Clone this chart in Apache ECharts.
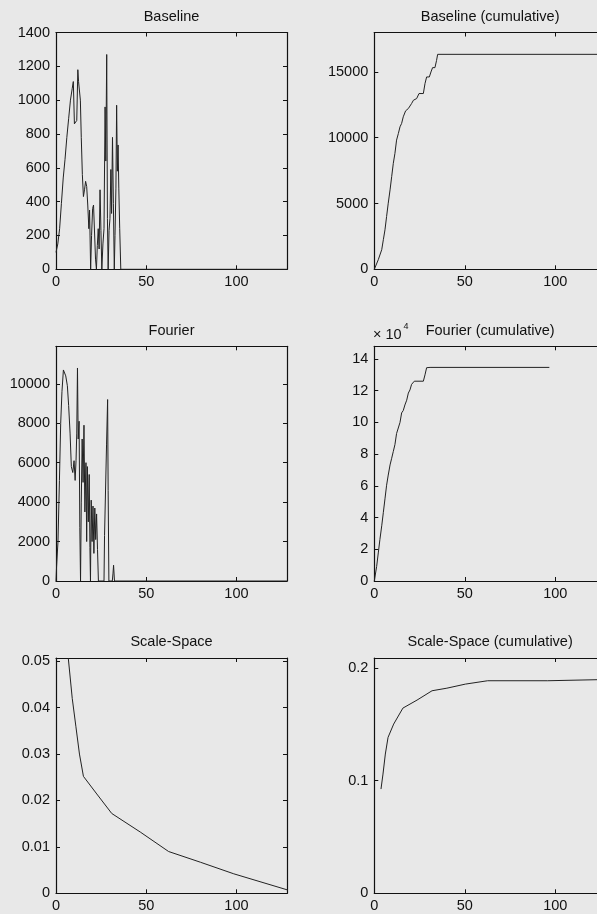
<!DOCTYPE html>
<html>
<head>
<meta charset="utf-8">
<script src="https://cdn.jsdelivr.net/npm/echarts@6/dist/echarts.min.js"></script>
<style>
html,body{margin:0;padding:0;background:#e8e8e8;}
#c{width:597px;height:914px;}
</style>
</head>
<body>
<div id="c"></div>
<script>
// ---------- data ----------
const panelTitles = ["Baseline", "Baseline (cumulative)", "Fourier", "Fourier (cumulative)", "Scale-Space", "Scale-Space (cumulative)"];
const xTickValues = [0, 50, 100];

const baselinePoints = [[0,100],[1,150],[2,240],[3,390],[4,540],[5,650],[6,780],[7,890],[8,1000],[9,1070],[9.6,1110],[10.2,860],[11.5,880],[12.1,1180],[12.5,1110],[13,1100],[13.5,1000],[14,780],[14.6,560],[15.2,430],[15.8,470],[16.4,520],[17,490],[17.6,380],[18.2,240],[18.6,350],[19.2,0],[19.7,200],[20.3,360],[20.8,380],[21.4,370],[21.9,60],[22.4,0],[22.9,140],[23.4,240],[23.9,120],[24.4,470],[24.9,230],[25.4,0],[26,150],[26.6,240],[27.2,960],[27.6,640],[28.1,1270],[28.5,300],[28.9,0],[29.4,230],[29.9,300],[30.4,590],[30.8,330],[31.3,780],[31.8,390],[32.3,0],[32.7,200],[33.2,480],[33.6,970],[34.0,580],[34.4,735],[34.8,480],[35.3,240],[35.9,0],[36.2,0],[128,0]];

const baselineCumPoints = [[0,0],[0.4,100],[2.2,730],[4.1,1490],[5,2250],[5.9,3000],[6.8,4015],[7.7,5025],[8.7,6035],[9.6,7045],[10.5,8055],[11.4,8810],[12.3,9820],[13.3,10330],[14.2,10830],[15.1,11090],[16,11590],[17.3,12045],[18.8,12220],[20.6,12600],[21.6,12850],[23.4,12980],[24.7,13360],[27.1,13360],[28,14115],[28.9,14620],[30.4,14620],[31.3,15000],[32.2,15330],[33.5,15330],[34.4,15880],[35,16340],[128,16340]];

const fourierPoints = [[0,0],[0.3,700],[1.1,2000],[1.9,5100],[2.6,8000],[3.3,9600],[4.1,10700],[4.8,10600],[5.4,10400],[6.3,9900],[7,8900],[7.8,7500],[8.5,5800],[9.3,5500],[10,6100],[10.6,5100],[11.1,6100],[11.5,7500],[11.9,10800],[12.3,7200],[12.8,8100],[13.2,2700],[13.6,0],[14,4000],[14.5,7200],[15,5000],[15.5,7900],[16,3500],[16.6,6000],[17,2000],[17.4,5800],[17.9,3000],[18.4,5400],[18.8,1700],[19.1,0],[19.5,4100],[20,2000],[20.5,3800],[21,1400],[21.5,3700],[22,2100],[22.5,3400],[23,1600],[23.5,0],[26.6,0],[26.9,2300],[27.5,2400],[28,6900],[28.6,9200],[28.9,4600],[29.3,0],[31.2,0],[31.6,400],[31.9,800],[32.4,0],[128,0]];

// Fourier cumulative in units of 10^4
const fourierCumPoints = [[0,0],[0.4,0.05],[1.3,0.92],[2.2,1.77],[3.1,2.62],[4.1,3.48],[5,4.33],[5.9,5.18],[6.8,6.04],[7.7,6.68],[8.7,7.32],[9.6,7.74],[10.5,8.17],[11.4,8.6],[12.3,9.3],[13.3,9.4],[14.2,10.0],[15.1,10.6],[16,10.75],[16.9,11.1],[17.9,11.4],[18.8,11.85],[19.7,12.05],[20.6,12.4],[22.1,12.6],[27.1,12.6],[28,13.0],[28.9,13.45],[30.8,13.47],[96.7,13.47]];

const scaleSpacePoints = [[6.8,0.0507],[9,0.042],[11,0.036],[13,0.030],[15.2,0.0252],[22.6,0.0214],[30.9,0.0172],[46.7,0.0132],[62.4,0.0090],[80,0.0067],[98.5,0.0042],[128.5,0.0007]];

const scaleSpaceCumPoints = [[3.7,0.0926],[4.8,0.1059],[6.1,0.1237],[7.6,0.1385],[10.7,0.1503],[15.8,0.1645],[23.6,0.1716],[31.9,0.1799],[40.1,0.1822],[50.3,0.1858],[62.6,0.1888],[95.8,0.1888],[96.3,0.1899],[128,0.1899]];

const yMaxes = [1400, 18000, 11900, 14.8, 0.0507, 0.209];
const yIntervals = [200, 5000, 2000, 2, 0.01, 0.1];
const xMax = 128;
const xInterval = 50;

// ---------- layout ----------
const FONT = "'Liberation Sans', Arial, Helvetica, sans-serif";
const colLeft = [56, 374.3];
const colWidth = [231, 231.7];
const rowTop = [32.5, 346.3, 658];
const rowHeight = [236.8, 234.7, 235.3];
const titleY = [17, 330.5, 642.3];

const panelData = [baselinePoints, baselineCumPoints, fourierPoints, fourierCumPoints, scaleSpacePoints, scaleSpaceCumPoints];

const plainNumber = v => String(parseFloat(Number(v).toPrecision(10)));

const grids = [], xAxes = [], yAxes = [], series = [], graphics = [];
const lineCol = '#111';
const textCol = '#111';

for (let i = 0; i < 6; i++) {
  const r = Math.floor(i / 2), c = i % 2;
  grids.push({left: colLeft[c], top: rowTop[r], width: colWidth[c], height: rowHeight[r], outerBoundsMode: 'none', containLabel: false});
  const yMax = yMaxes[i];
  const roundMax = Math.abs(yMax / yIntervals[i] - Math.round(yMax / yIntervals[i])) < 1e-9;
  const common = {
    gridIndex: i, type: 'value', splitLine: {show: false},
    axisLine: {show: true, onZero: false, lineStyle: {color: lineCol, width: 1.2}},
    axisTick: {show: true, inside: true, length: 4, lineStyle: {color: lineCol, width: 1}}
  };
  xAxes.push(Object.assign({}, common, {
    position: 'bottom', min: 0, max: xMax, interval: xInterval,
    axisLabel: {show: true, showMaxLabel: false, margin: 5, color: textCol, fontSize: 14.5, fontFamily: FONT, formatter: plainNumber}
  }));
  xAxes.push(Object.assign({}, common, {
    position: 'top', min: 0, max: xMax, interval: xInterval, axisLabel: {show: false}
  }));
  yAxes.push(Object.assign({}, common, {
    position: 'left', min: 0, max: yMax, interval: yIntervals[i],
    axisLabel: {show: true, showMaxLabel: roundMax, margin: 6, color: textCol, fontSize: 14.5, fontFamily: FONT, formatter: plainNumber}
  }));
  yAxes.push(Object.assign({}, common, {
    position: 'right', min: 0, max: yMax, interval: yIntervals[i], axisLabel: {show: false}
  }));
  series.push({
    type: 'line', xAxisIndex: 2 * i, yAxisIndex: 2 * i, data: panelData[i],
    showSymbol: false, symbol: 'none', animation: false, smooth: false,
    lineStyle: {color: '#222', width: 1}
  });
  graphics.push({
    type: 'text', x: colLeft[c] + colWidth[c] / 2, y: titleY[r],
    style: {text: panelTitles[i], fill: textCol, font: '14.5px ' + FONT, textAlign: 'center', textVerticalAlign: 'middle'}
  });
}
// x10^4 exponent label for the Fourier (cumulative) panel
graphics.push({type: 'text', x: 373, y: 335, style: {text: '× 10', fill: textCol, font: '14.5px ' + FONT, textAlign: 'left', textVerticalAlign: 'middle'}});
graphics.push({type: 'text', x: 403.5, y: 327, style: {text: '4', fill: textCol, font: '9px ' + FONT, textAlign: 'left', textVerticalAlign: 'middle'}});

const chart = echarts.init(document.getElementById('c'), null, {renderer: 'canvas'});
chart.setOption({
  backgroundColor: '#e8e8e8',
  animation: false,
  grid: grids,
  xAxis: xAxes,
  yAxis: yAxes,
  series: series,
  graphic: graphics
});
</script>
</body>
</html>
